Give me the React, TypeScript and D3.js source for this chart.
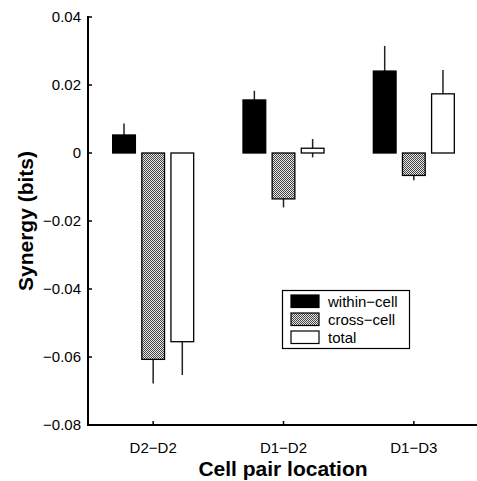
import React from "react";
import * as d3 from "d3";

const categories = ["D2−D2", "D1−D2", "D1−D3"];
const seriesNames = ["within−cell", "cross−cell", "total"];
const withinVals = [0.0053, 0.0156, 0.0241];
const withinErr = [0.0034, 0.0027, 0.0074];
const crossVals = [-0.0607, -0.0135, -0.0066];
const crossErr = [0.0071, 0.0025, 0.0014];
const totalVals = [-0.0555, 0.0014, 0.0174];
const totalErr = [0.0098, 0.0027, 0.007];
const yTicks = [0.04, 0.02, 0, -0.02, -0.04, -0.06, -0.08];

const W = 477, H = 481;
const L = 88, T = 17, B = 425, R = 479;
const FONT = "'Liberation Sans', Arial, Helvetica, sans-serif";

function fmt(v: number) {
  if (v === 0) return "0";
  const s = Math.abs(v).toFixed(2);
  return (v < 0 ? "−" : "") + s;
}

export default function App() {
  const y = d3.scaleLinear().domain([-0.08, 0.04]).range([B, T]);
  const x = d3.scaleBand().domain(categories).range([L, R]).paddingInner(0).paddingOuter(0);
  const inner = d3.scaleBand().domain(seriesNames).range([0, 81]).paddingInner(0.22);
  const series = [
    { name: seriesNames[0], vals: withinVals, errs: withinErr, fill: "#000" },
    { name: seriesNames[1], vals: crossVals, errs: crossErr, fill: "url(#stip)" },
    { name: seriesNames[2], vals: totalVals, errs: totalErr, fill: "#fff" },
  ];
  const bw = inner.bandwidth();
  const y0 = y(0);
  return (
    <svg width={W} height={H} style={{ position: "absolute", left: 0, top: 0, background: "#fff" }}>
      <defs>
        <pattern id="stip" width="2" height="2" patternUnits="userSpaceOnUse">
          <rect width="2" height="2" fill="#e8e8e8" />
          <rect x="0" y="0" width="1" height="1" fill="#444" />
          <rect x="1" y="1" width="1" height="1" fill="#444" />
        </pattern>
      </defs>
      <rect width={W} height={H} fill="#fff" />
      {categories.map((c, i) => {
        const gx = (x(c) as number) + x.bandwidth() / 2 - 40.5;
        return (
          <g key={c}>
            {series.map((s) => {
              const bx = gx + (inner(s.name) as number);
              const v = s.vals[i];
              const e = s.errs[i];
              const cx = bx + bw / 2;
              return (
                <g key={s.name}>
                  <line x1={cx} x2={cx} y1={y(v - e)} y2={y(v + e)} stroke="#222" strokeWidth={1.5} />
                  <rect
                    x={bx}
                    y={Math.min(y(v), y0)}
                    width={bw}
                    height={Math.abs(y(v) - y0)}
                    fill={s.fill}
                    stroke="#000"
                    strokeWidth={1.3}
                  />
                </g>
              );
            })}
          </g>
        );
      })}
      {/* axes */}
      <line x1={L} x2={L} y1={T - 1} y2={B + 1} stroke="#000" strokeWidth={2} />
      <line x1={L - 1} x2={W} y1={B} y2={B} stroke="#000" strokeWidth={2} />
      {yTicks.map((t) => (
        <g key={t}>
          <line x1={L} x2={L + 4} y1={y(t)} y2={y(t)} stroke="#000" strokeWidth={1.5} />
          <text x={L - 7} y={y(t)} dy="0.35em" textAnchor="end" fontFamily={FONT} fontSize={15}>
            {fmt(t)}
          </text>
        </g>
      ))}
      {categories.map((c) => {
        const cx = (x(c) as number) + x.bandwidth() / 2;
        return (
          <g key={c}>
            <line x1={cx} x2={cx} y1={B} y2={B - 4} stroke="#000" strokeWidth={1.5} />
            <text x={cx} y={453} textAnchor="middle" fontFamily={FONT} fontSize={15}>
              {c}
            </text>
          </g>
        );
      })}
      <text x={283} y={476} textAnchor="middle" fontFamily={FONT} fontSize={21} fontWeight="bold">
        Cell pair location
      </text>
      <text
        transform={`translate(33,${(T + B) / 2}) rotate(-90)`}
        textAnchor="middle"
        fontFamily={FONT}
        fontSize={21}
        fontWeight="bold"
      >
        Synergy (bits)
      </text>
      {/* legend */}
      <rect x={282.5} y={290.5} width={127} height={58} fill="#fff" stroke="#000" strokeWidth={1.2} />
      {series.map((s, i) => (
        <g key={s.name}>
          <rect x={291} y={295 + i * 18} width={28} height={12.5} fill={s.fill} stroke="#000" strokeWidth={1.2} />
          <text x={328} y={301.5 + i * 18} dy="0.35em" fontFamily={FONT} fontSize={15}>
            {s.name}
          </text>
        </g>
      ))}
    </svg>
  );
}
